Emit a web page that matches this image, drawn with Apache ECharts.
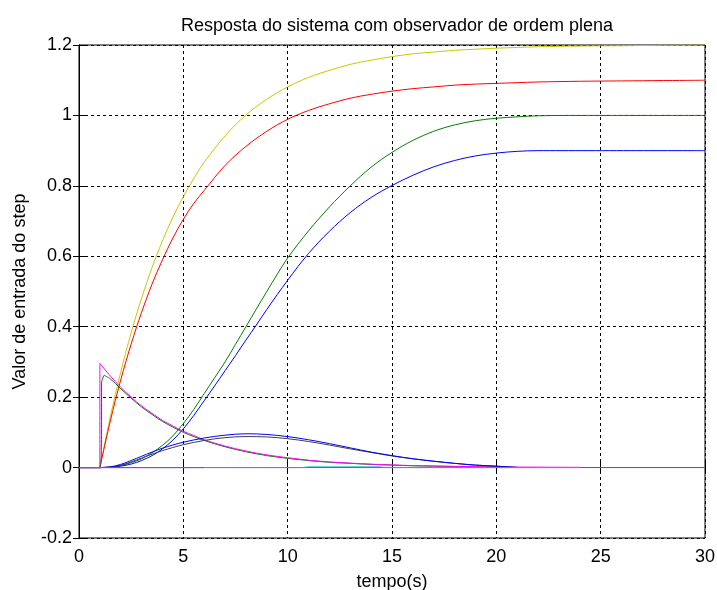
<!DOCTYPE html>
<html>
<head>
<meta charset="utf-8">
<script src="https://cdn.jsdelivr.net/npm/echarts@6/dist/echarts.min.js"></script>
<style>html,body{margin:0;padding:0;background:#fff;}#chart{width:717px;height:590px;}</style>
</head>
<body>
<div id="chart"></div>
<script>
// x ticks / y ticks
const xTicks = [0, 5, 10, 15, 20, 25, 30];
const yTicks = [-0.2, 0, 0.2, 0.4, 0.6, 0.8, 1, 1.2];

// [tempo, valor] pairs; null splits a straight piece from a curved piece
const yellowRise = [[0,0],[1,0],null,[1,0],[1.5,0.144],[2,0.271],[2.5,0.383],[3,0.481],[3.5,0.568],[4,0.644],[4.5,0.711],[5,0.769],[5.5,0.821],[6,0.867],[7,0.942],[8,1.001],[9,1.046],[10,1.081],[11,1.108],[12,1.128],[13,1.145],[14,1.157],[15,1.167],[16,1.175],[17,1.180],[18,1.185],[19,1.188],[20,1.191],[21,1.193],[22,1.195],[24,1.197],[26,1.198],[28,1.199],[30,1.2]];
const redRise = [[0,0],[1,0],null,[1,0],[1.5,0.132],[2,0.249],[2.5,0.351],[3,0.441],[3.5,0.521],[4,0.590],[4.5,0.652],[5,0.705],[5.5,0.750],[6,0.787],[7,0.858],[8,0.912],[9,0.955],[10,0.989],[11,1.014],[12,1.033],[13,1.049],[14,1.060],[15,1.069],[16,1.076],[17,1.081],[18,1.086],[19,1.089],[20,1.091],[21,1.093],[22,1.095],[24,1.097],[26,1.098],[28,1.099],[30,1.1]];
const greenS = [[0,0],[1,0],null,[1,0],[1.5,0.002],[2,0.006],[2.5,0.014],[3,0.025],[3.5,0.042],[4,0.063],[4.5,0.09],[5,0.125],[5.5,0.165],[6,0.21],[6.5,0.255],[7,0.3],[7.5,0.35],[8,0.4],[9,0.5],[10,0.595],[11,0.672],[12,0.74],[13,0.8],[14,0.853],[15,0.895],[16,0.929],[17,0.955],[18,0.973],[19,0.985],[20,0.992],[21,0.996],[22,0.999],[24,1],[30,1]];
const blueS = [[0,0],[1,0],null,[1,0],[1.5,0.001],[2,0.004],[2.5,0.01],[3,0.02],[3.5,0.034],[4,0.053],[4.5,0.078],[5,0.11],[5.5,0.148],[6,0.19],[6.5,0.232],[7,0.275],[7.5,0.318],[8,0.362],[8.5,0.405],[9,0.449],[10,0.532],[11,0.608],[12,0.671],[13,0.724],[14,0.767],[15,0.801],[16,0.83],[17,0.854],[18,0.872],[19,0.885],[20,0.893],[21,0.898],[22,0.9],[30,0.9]];
const greenSpike = [[0,0],[1,0],[1.08,0.13],[1.08,0.24],[1.2,0.262],null,[1.2,0.262],[1.5,0.252],[2,0.224],[2.5,0.197],[3,0.172],[3.5,0.151],[4,0.131],[4.5,0.115],[5,0.1],[5.5,0.088],[6,0.077],[7,0.059],[8,0.045],[9,0.034],[10,0.026],[11,0.02],[12,0.015],[13,0.012],[14,0.009],[15,0.007],[16,0.005],[17,0.004],[18,0.003],[19,0.002],[20,0.0015],[21,0.001]];
const magentaSpike = [[0,0],[1,0],[1,0.296],null,[1,0.296],[1.5,0.260],[2,0.228],[2.5,0.200],[3,0.175],[3.5,0.154],[4,0.134],[4.5,0.118],[5,0.103],[5.5,0.091],[6,0.079],[7,0.061],[8,0.047],[9,0.036],[10,0.028],[11,0.021],[12,0.016],[13,0.0126],[14,0.0096],[15,0.0074],[16,0.0057],[17,0.0044],[18,0.0034],[19,0.0026],[20,0.002],[21,0.0015],[22,0.0012],[23,0.0009],[24,0.0007]];
const blueHump = [[0,0],[1,0],null,[1,0],[1.5,0.002],[2,0.009],[2.5,0.02],[3,0.032],[3.5,0.044],[4,0.055],[4.5,0.064],[5,0.072],[6,0.084],[7,0.092],[8,0.096],[9,0.094],[10,0.088],[11,0.079],[12,0.068],[13,0.056],[14,0.044],[15,0.034],[16,0.025],[17,0.018],[18,0.012],[19,0.007],[20,0.004],[21,0]];
const grayHump = [[0,0],[1,0],null,[1,0],[1.5,0.001],[2,0.006],[2.5,0.016],[3,0.027],[3.5,0.038],[4,0.048],[4.5,0.057],[5,0.065],[6,0.077],[7,0.085],[8,0.088],[9,0.087],[10,0.082],[11,0.074],[12,0.064],[13,0.053],[14,0.043],[15,0.033],[16,0.025],[17,0.018],[18,0.012],[19,0.007],[20,0.004],[21,0]];
const cyanZero = [[0,0],[10.7,0],[11,0.002],[14.4,0.002],[14.7,0],[24,0]];
const magentaZeroFull = [[0,0],[30,0]];
const magentaZeroStart = [[0,0],[6,0]];

const FONT = '"Liberation Sans", Arial, sans-serif';

function line(data, color, z, smooth) {
  return { type: 'line', data: data, showSymbol: false, symbol: 'none', animation: false,
           smooth: smooth || false, connectNulls: false,
           lineStyle: { color: color, width: 1 }, itemStyle: { color: color }, z: z, silent: true };
}

const chart = echarts.init(document.getElementById('chart'), null, { renderer: 'canvas' });
chart.setOption({
  backgroundColor: '#fff',
  animation: false,
  title: {
    text: 'Resposta do sistema com observador de ordem plena',
    left: 392, top: 12, textAlign: 'center',
    textStyle: { fontFamily: FONT, fontSize: 18, fontWeight: 'normal', color: '#000' }
  },
  grid: { left: 79, right: 12, top: 45, bottom: 52, show: true, borderColor: '#000', borderWidth: 1,
          backgroundColor: '#fff', containLabel: false, outerBoundsMode: 'none' },
  xAxis: [{
    type: 'value', min: xTicks[0], max: xTicks[xTicks.length - 1], interval: 5,
    name: 'tempo(s)', nameLocation: 'middle', nameGap: 35,
    nameTextStyle: { fontFamily: FONT, fontSize: 18, color: '#000' },
    axisLine: { show: true, lineStyle: { color: '#000' } },
    axisTick: { show: true, inside: true, length: 6, lineStyle: { color: '#000' } },
    axisLabel: { fontFamily: FONT, fontSize: 18, color: '#000', margin: 10 },
    splitLine: { show: true, lineStyle: { color: '#000', type: [3, 3], width: 1 } }
  }, {
    type: 'value', position: 'top', min: xTicks[0], max: xTicks[xTicks.length - 1], interval: 5,
    axisLine: { show: true, lineStyle: { color: '#000' } },
    axisTick: { show: true, inside: true, length: 6, lineStyle: { color: '#000' } },
    axisLabel: { show: false }, splitLine: { show: false }
  }],
  yAxis: [{
    type: 'value', min: yTicks[0], max: yTicks[yTicks.length - 1], interval: 0.2,
    name: 'Valor de entrada do step', nameLocation: 'middle', nameGap: 50,
    nameTextStyle: { fontFamily: FONT, fontSize: 18, color: '#000' },
    axisLine: { show: true, lineStyle: { color: '#000' } },
    axisTick: { show: true, inside: true, length: 6, lineStyle: { color: '#000' } },
    axisLabel: { fontFamily: FONT, fontSize: 18, color: '#000', margin: 7,
      formatter: function (v) { return String(Math.round(v * 10) / 10); } },
    splitLine: { show: true, lineStyle: { color: '#000', type: [3, 3], width: 1 } }
  }, {
    type: 'value', position: 'right', min: yTicks[0], max: yTicks[yTicks.length - 1], interval: 0.2,
    axisLine: { show: true, lineStyle: { color: '#000' } },
    axisTick: { show: true, inside: true, length: 6, lineStyle: { color: '#000' } },
    axisLabel: { show: false }, splitLine: { show: false }
  }],
  series: [
    line(magentaZeroFull, '#ff00ff', 1),
    line(yellowRise, '#c8c800', 2, 0.35),
    line(redRise, '#ff0000', 3, 0.35),
    line(greenS, '#008000', 4, 0.35),
    line(blueS, '#0000ff', 5, 0.35),
    line(greenSpike, '#008000', 6, 0.35),
    line(magentaSpike, '#ff00ff', 7, 0.35),
    line(grayHump, '#404040', 8, 0.35),
    line(blueHump, '#0000ff', 9, 0.35),
    line(cyanZero, '#00bfbf', 10),
    line(magentaZeroStart, '#ff00ff', 11)
  ]
});
</script>
</body>
</html>
